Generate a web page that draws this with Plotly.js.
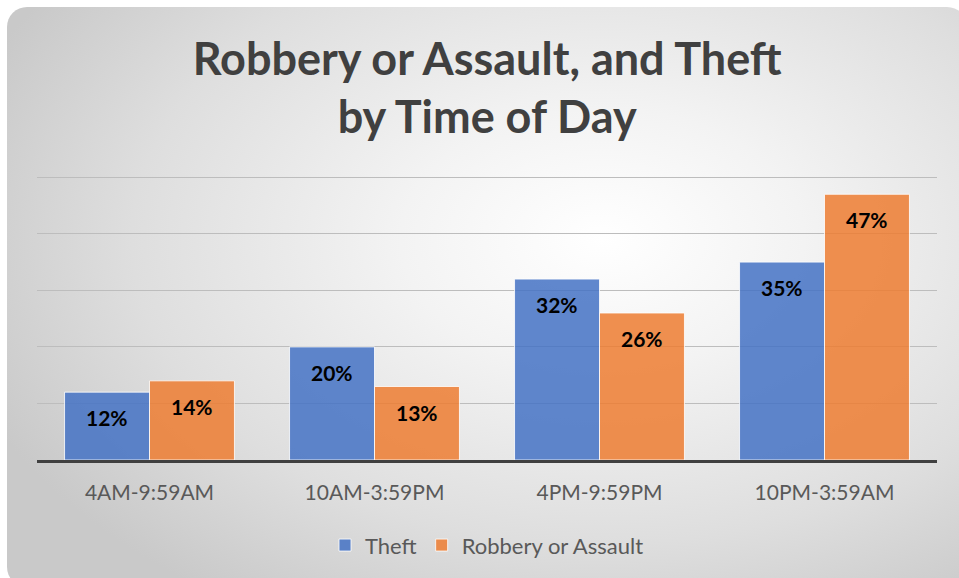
<!DOCTYPE html>
<html>
<head>
<meta charset="utf-8">
<script src="https://cdn.plot.ly/plotly-3.0.1.min.js"></script>
<style>
  html, body { margin: 0; padding: 0; background: #ffffff; width: 959px; height: 578px; overflow: hidden; }
  #bg { position: absolute; left: 7px; top: 7px; width: 960px; height: 580px; border-radius: 20px;
        background: radial-gradient(ellipse 70% 75% at 62% 40%, #ffffff 0%, #f3f3f3 30%, #dedede 70%, #c9c9c9 100%); }
  #chart { position: absolute; left: 0; top: 0; width: 959px; height: 578px; }
</style>
</head>
<body>
<div id="bg"></div>
<div id="chart"></div>
<script>
const categories = ["4AM-9:59AM", "10AM-3:59PM", "4PM-9:59PM", "10PM-3:59AM"];
const theft = [12, 20, 32, 35];
const robbery = [14, 13, 26, 47];
const seriesNames = ["Theft", "Robbery or Assault"];

const font = "Lato, 'Open Sans', sans-serif";

const traces = [
  { type: "bar", name: seriesNames[0], x: categories, y: theft,
    marker: { color: "rgba(68,114,196,0.85)", line: { color: "rgba(255,255,255,0.8)", width: 1 } },
    hoverinfo: "skip" },
  { type: "bar", name: seriesNames[1], x: categories, y: robbery,
    marker: { color: "rgba(237,125,49,0.85)", line: { color: "rgba(255,255,255,0.8)", width: 1 } },
    hoverinfo: "skip" }
];

const annotations = [];
[theft, robbery].forEach((vals, si) => {
  vals.forEach((v, i) => {
    annotations.push({
      x: categories[i], y: v, xref: "x", yref: "y",
      xshift: si === 0 ? -42.5 : 42.5, yshift: -11,
      yanchor: "top", xanchor: "center", showarrow: false,
      text: "<b>" + v + "%</b>",
      font: { family: font, size: 21, color: "#000000" }
    });
  });
});

const layout = {
  width: 959, height: 578,
  paper_bgcolor: "rgba(0,0,0,0)", plot_bgcolor: "rgba(0,0,0,0)",
  margin: { l: 37, r: 22, t: 166, b: 118 },
  title: {
    text: "<b>Robbery or Assault, and Theft<br>by Time of Day</b>",
    font: { family: font, size: 45, color: "#404040" },
    x: 0.508, xanchor: "center", y: 0.871, yanchor: "middle", yref: "container"
  },
  barmode: "group", bargap: 0.245, bargroupgap: 0,
  xaxis: {
    type: "category",
    showline: true, linecolor: "#404040", linewidth: 3,
    ticks: "", ticklabelstandoff: 12,
    tickfont: { family: font, size: 21, color: "#595959" },
    showgrid: false
  },
  yaxis: {
    range: [0, 52], tickvals: [10, 20, 30, 40, 50], showticklabels: false,
    showgrid: true, gridcolor: "#bdbdbd", gridwidth: 1,
    zeroline: false, fixedrange: true
  },
  showlegend: true,
  legend: {
    orientation: "h", x: 0.5, xanchor: "center", y: -0.29, yanchor: "middle",
    font: { family: font, size: 22, color: "#595959" },
    bgcolor: "rgba(0,0,0,0)", itemclick: false
  },
  annotations: annotations
};

Plotly.newPlot("chart", traces, layout, { displayModeBar: false, staticPlot: true });
</script>
</body>
</html>
